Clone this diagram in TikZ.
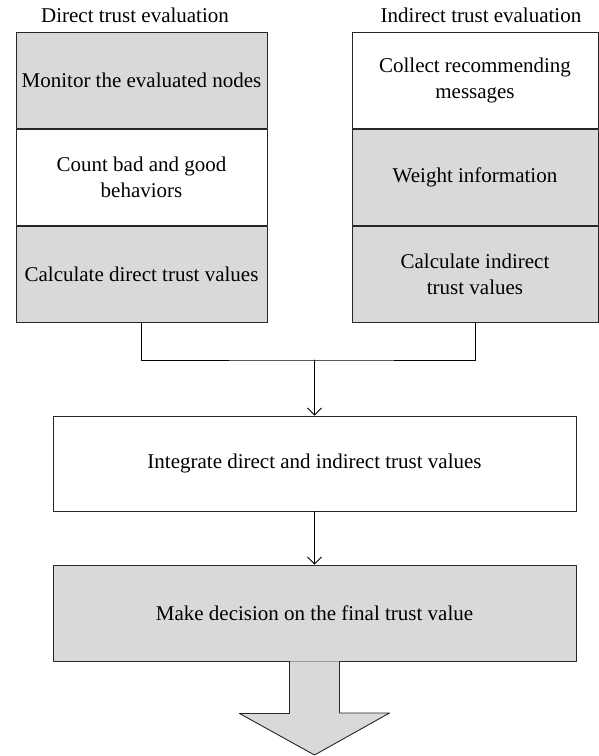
\documentclass[tikz,border=0pt]{standalone}
\usepackage{fontspec}
\setmainfont{Liberation Serif}
\usetikzlibrary{positioning,arrows.meta}
\definecolor{boxgray}{HTML}{D9D9D9}
\begin{document}
\begin{tikzpicture}[x=1pt, y=-1pt, line cap=round, line join=round, >={Straight Barb[length=7pt,width=14pt]}, font=\fontsize{21}{26}\selectfont]
			\tikzset{step box/.style={draw=black!85, line width=0.9pt, inner sep=0pt, align=center, minimum height=96pt},
				shaded/.style={step box, fill=boxgray}}
			\useasboundingbox (0,0) rectangle (599,756);
			\node (dtitle) at (135,15) {Direct trust evaluation};
			\node (ititle) at (481,15) {Indirect trust evaluation};
			\node[shaded, minimum width=251pt] (mon) at (141.5,80.5) {Monitor the evaluated nodes};
			\node[step box, minimum width=251pt, below=0pt of mon] (cnt) {Count bad and good\\behaviors};
			\node[shaded, minimum width=251pt, below=0pt of cnt] (cdt) {Calculate direct trust values};
			\node[step box, minimum width=246pt] (col) at (475,80.5) {Collect recommending\\messages};
			\node[shaded, minimum width=246pt, below=0pt of col] (wgt) {Weight information};
			\node[shaded, minimum width=246pt, below=0pt of wgt] (cit) {Calculate indirect\\trust values};
			\node[step box, minimum width=523pt, minimum height=95pt] (integ) at (314.5,463.5) {Integrate direct and indirect trust values};
			\node[shaded, minimum width=523pt] (dec) at (314.5,613) {Make decision on the final trust value};
			\coordinate (join) at (integ.north |- 0,360);
			\draw[line width=0.9pt] (cdt.south) |- (join) -| (cit.south);
			\draw[->, line width=0.9pt] (join) -- (integ.north);
			\draw[->, line width=0.9pt] (integ.south) -- (dec.north);
			% output arrow
			\draw[draw=black!85, line width=0.9pt, fill=boxgray] ([xshift=-25pt]dec.south) -- ++(0,52) -- ++(-50,0) -- (314.5,755) -- (389.5,713) -- ++(-50,0) -- ([xshift=25pt]dec.south);
		\end{tikzpicture}
\end{document}
